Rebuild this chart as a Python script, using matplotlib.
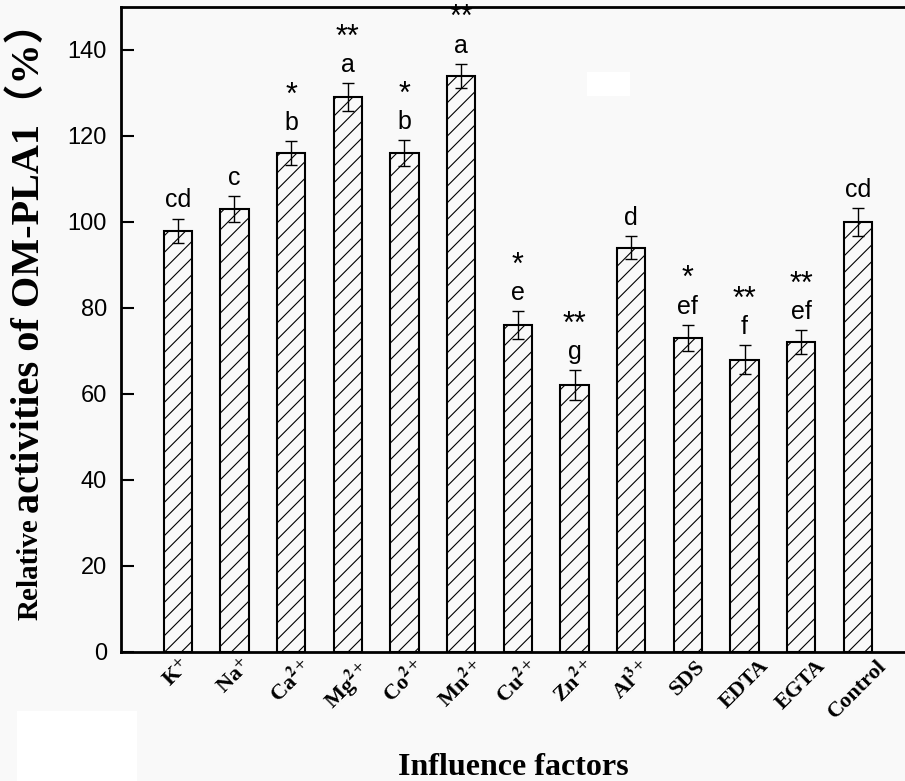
import matplotlib
matplotlib.use("Agg")
import matplotlib.pyplot as plt
from matplotlib.patches import Rectangle

# data
factors = ["K$^{+}$", "Na$^{+}$", "Ca$^{\\mathbf{2}+}$", "Mg$^{\\mathbf{2}+}$", "Co$^{\\mathbf{2}+}$",
           "Mn$^{\\mathbf{2}+}$", "Cu$^{\\mathbf{2}+}$", "Zn$^{\\mathbf{2}+}$", "Al$^{\\mathbf{3}+}$",
           "SDS", "EDTA", "EGTA", "Control"]
activity = [98, 103, 116, 129, 116, 134, 76, 62, 94, 73, 68, 72, 100]
errors = [2.8, 3.1, 2.8, 3.3, 3.0, 2.8, 3.3, 3.5, 2.7, 3.1, 3.3, 2.8, 3.2]
letters = ["cd", "c", "b", "a", "b", "a", "e", "g", "d", "ef", "f", "ef", "cd"]
stars = ["", "", "*", "**", "*", "**", "*", "**", "", "*", "**", "**", ""]

BG = "#f9f9f9"
plt.rcParams["mathtext.fontset"] = "stix"
plt.rcParams["hatch.linewidth"] = 0.8

fig = plt.figure(figsize=(9.05, 7.81), dpi=100, facecolor=BG)
ax = fig.add_axes([121 / 905, 129 / 781, 1 - 121 / 905, (652 - 7) / 781])
ax.set_facecolor(BG)

x = list(range(1, len(activity) + 1))
ax.bar(x, activity, width=0.5, facecolor=BG, edgecolor="black", linewidth=1.5, hatch="//", zorder=2)
ax.errorbar(x, activity, yerr=errors, fmt="none", ecolor="black", elinewidth=1.0,
            capsize=4.3, capthick=1.0, zorder=3)

# significance letters and stars above the error bars
for xi, v, e, let, st in zip(x, activity, errors, letters, stars):
    ax.annotate(let, (xi, v + e), xytext=(0, 8), textcoords="offset points",
                ha="center", va="baseline", fontsize=18, family="Liberation Sans",
                clip_on=False, zorder=4)
    if st:
        ax.annotate(st, (xi, v + e), xytext=(0, 27), textcoords="offset points",
                    ha="center", va="baseline", fontsize=22, family="Liberation Sans",
                    clip_on=False, zorder=4)

ax.set_xlim(0, 13.83)
ax.set_ylim(0, 150)
ax.set_yticks([0, 20, 40, 60, 80, 100, 120, 140])
ax.set_xticks(x)
ax.set_xticklabels(factors, rotation=45, ha="center", fontsize=16,
                   family="Liberation Serif", fontweight="bold")
ax.tick_params(axis="x", length=0, pad=3)
ax.tick_params(axis="y", direction="in", length=9, width=1.5, pad=10, labelsize=17)
for lab in ax.get_yticklabels():
    lab.set_family("Liberation Sans")

for side in ["left", "bottom", "top"]:
    ax.spines[side].set_linewidth(2)
ax.spines["right"].set_visible(False)

# y label: "Relative" is set smaller than the rest
fig.text(38 / 905, (781 - 620) / 781, "Relative", rotation=90, rotation_mode="anchor",
         ha="left", va="baseline", fontsize=21, fontweight="bold",
         family=["Liberation Serif", "Noto Sans CJK SC"])
fig.text(39 / 905, (781 - 513) / 781, "activities of OM-PLA1（%）", rotation=90,
         rotation_mode="anchor", ha="left", va="baseline", fontsize=29, fontweight="bold",
         family=["Liberation Serif", "Noto Sans CJK SC"])

fig.text(513 / 905, 6 / 781, "Influence factors", ha="center", va="baseline",
         fontsize=23, fontweight="bold", family="Liberation Serif")

# faint white patches seen on the original scan
fig.patches.append(Rectangle((587 / 905, 1 - 96 / 781), 43 / 905, 24 / 781,
                             transform=fig.transFigure, facecolor="white", edgecolor="none", zorder=0))
fig.patches.append(Rectangle((17 / 905, 0), 120 / 905, 70 / 781,
                             transform=fig.transFigure, facecolor="white", edgecolor="none", zorder=0))

fig.savefig("out.png", dpi=100, facecolor=BG)
